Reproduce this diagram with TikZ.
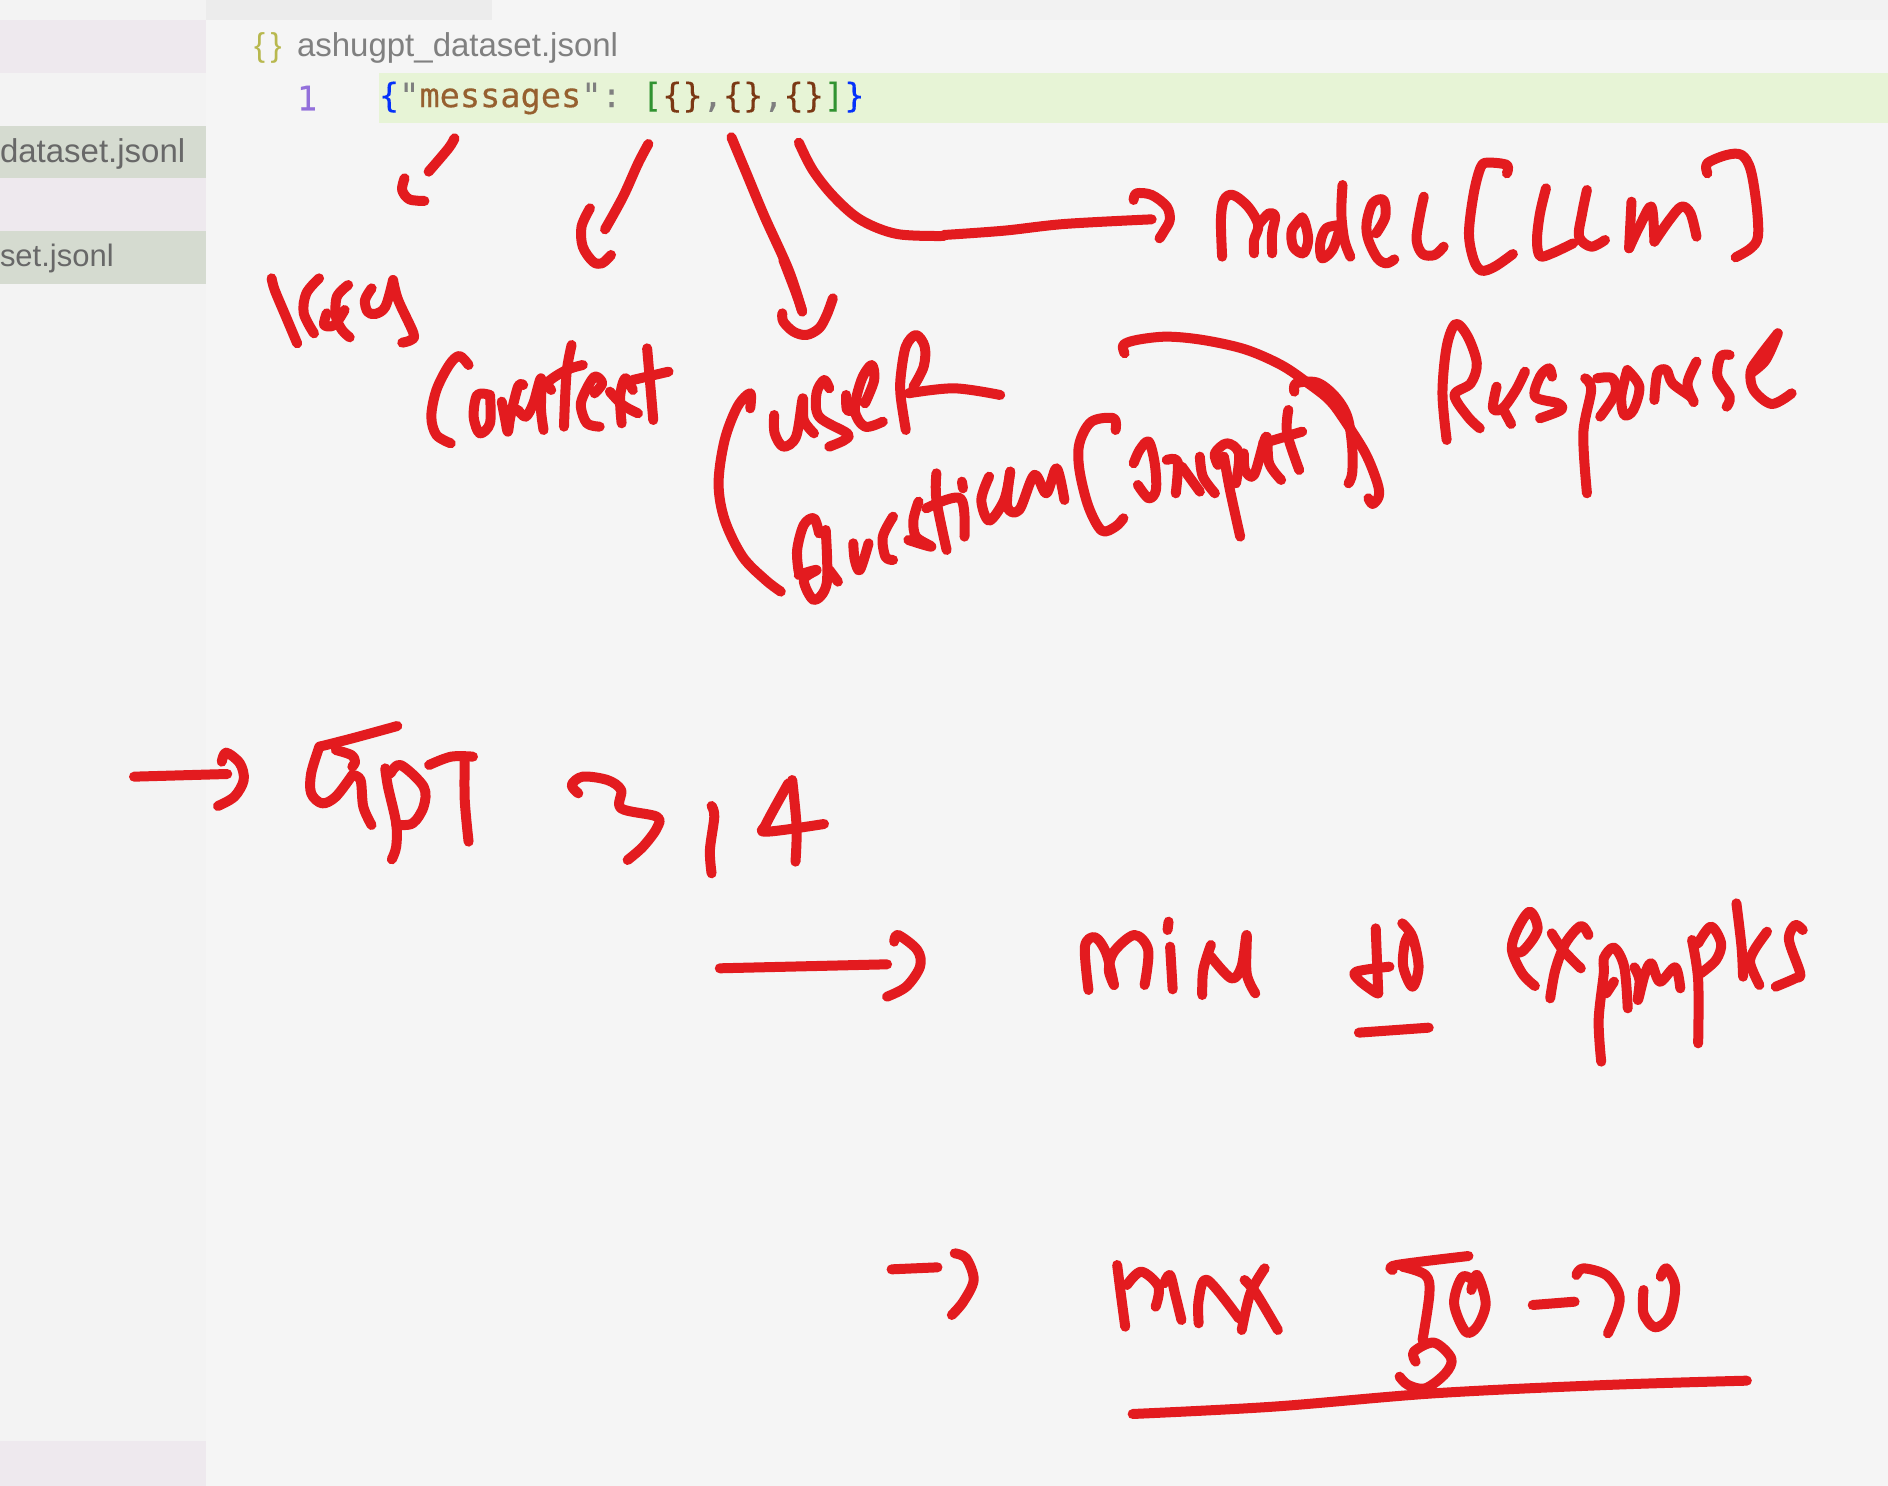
\documentclass[tikz,border=0pt]{standalone}
\usepackage{fontspec}
\setmainfont{Liberation Sans}
\newfontfamily\codefont[FakeBold=0.3]{DejaVu Sans Mono}
\definecolor{bgc}{HTML}{F5F5F5}
\definecolor{sidec}{HTML}{F3F3F3}
\definecolor{tabc}{HTML}{ECECEC}
\definecolor{bandc}{HTML}{F2F2F2}
\definecolor{rowc}{HTML}{EEE9EE}
\definecolor{selc}{HTML}{D5DBD0}
\definecolor{linec}{HTML}{E7F4D6}
\definecolor{penc}{HTML}{E31B1F}
\definecolor{titlec}{HTML}{808080}
\definecolor{filec}{HTML}{686868}
\definecolor{olivec}{HTML}{B8B84E}
\definecolor{numc}{HTML}{9370DB}
\definecolor{bluec}{HTML}{0431FA}
\definecolor{strc}{HTML}{96602F}
\definecolor{greenc}{HTML}{319331}
\definecolor{brownc}{HTML}{7B3814}
\definecolor{greyc}{HTML}{7F7F7F}
\tikzset{
 pen/.style={draw=penc,line width=10pt,line cap=round,line join=round},
 uitext/.style={inner sep=0pt,outer sep=0pt,anchor=west,font=\fontsize{33}{36}\selectfont},
 code/.style={inner sep=0pt,outer sep=0pt,anchor=west,font=\codefont\fontsize{33.6}{36}\selectfont},
}
\newcommand\pn[1]{\draw[pen] plot[smooth,tension=.55] coordinates {#1};}
\begin{document}
\begin{tikzpicture}[x=1pt,y=-1pt]
\useasboundingbox (0,0) rectangle (1888,1486);
\fill[bgc] (0,0) rectangle (1888,1486);
\fill[sidec] (0,0) rectangle (206,1486);
\fill[tabc] (206,0) rectangle (492,20);
\fill[bandc] (960,0) rectangle (1888,20);
\fill[rowc] (0,20) rectangle (206,73);
\fill[selc] (0,126) rectangle (206,178);
\fill[rowc] (0,178) rectangle (206,231);
\fill[selc] (0,231) rectangle (206,284);
\fill[rowc] (0,1441) rectangle (206,1486);
\fill[linec] (379,73) rectangle (1888,123);
\node[uitext,text=olivec] (icon) at (254,48) {\{\,\}};
\node[uitext,text=titlec] (title) at (297,48) {ashugpt\_dataset.jsonl};
\node[uitext,text=filec] (f1) at (0,154) {dataset.jsonl};
\node[uitext,text=filec,font=\fontsize{31}{34}\selectfont] (f2) at (0,258) {set.jsonl};
\node[code,text=numc] (num) at (297,98) {1};
\node[code] (codeline) at (379,98) {\textcolor{bluec}{\{}\textcolor{greyc}{"}\textcolor{strc}{messages}\textcolor{greyc}{":}~\textcolor{greenc}{[}\textcolor{brownc}{\{\}}\textcolor{greyc}{,}\textcolor{brownc}{\{\}}\textcolor{greyc}{,}\textcolor{brownc}{\{\}}\textcolor{greenc}{]}\textcolor{bluec}{\}}};
% zoom 1 strokes
\begin{scope}[shift={(0,0)},xscale=0.602,yscale=0.3333]
\pn{(755,415)(745,445)(712,515)}
\pn{(672,535)(668,570)(680,598)(705,603)}
\pn{(1077,432)(1060,490)(1035,590)(1005,688)}
\pn{(980,625)(966,680)(968,740)(985,785)(1000,790)(1015,765)}
\pn{(1215,412)(1240,520)(1270,650)(1310,810)(1332,930)}
\pn{(1327,428)(1350,510)(1385,590)(1430,660)(1490,702)(1568,708)}
\end{scope}
% zoom 2 strokes
\begin{scope}[shift={(944,100)},xscale=0.602,yscale=0.3333]
\pn{(0,405)(100,392)(200,372)(345,358)}
\pn{(315,300)(320,280)(345,285)(370,320)(375,360)(365,395)(358,415)}
\pn{(462,470)(460,360)(465,300)(480,285)(505,320)(522,375)(515,420)(515,460)}
\pn{(522,375)(540,340)(550,350)(545,400)(545,460)}
\pn{(595,352)(578,390)(580,440)(597,460)(605,420)(600,370)(595,352)}
\pn{(660,375)(635,385)(625,430)(628,475)(645,450)(655,400)}
\pn{(662,255)(660,340)(665,420)(675,470)}
\pn{(718,400)(733,350)(730,300)(712,310)(702,370)(705,420)(720,475)(735,490)(748,478)}
\pn{(797,290)(790,350)(785,420)(795,462)(815,465)(830,440)}
\pn{(935,220)(935,195)(905,188)(892,200)(880,280)(872,400)(880,480)(893,512)(915,500)(945,462)}
\pn{(1000,265)(990,340)(985,420)(990,468)(1010,460)(1045,430)}
\pn{(1068,270)(1060,340)(1055,410)(1075,440)(1098,420)}
\pn{(1142,305)(1138,445)}
\pn{(1138,445)(1155,380)(1175,320)(1180,425)}
\pn{(1180,425)(1205,360)(1225,320)(1240,340)(1250,410)}
\pn{(1268,220)(1268,190)(1300,165)(1325,165)(1340,210)(1350,320)(1352,410)(1340,445)(1315,472)}
\pn{(300,760)(298,735)(320,720)(370,710)(430,720)(500,748)(560,795)(605,850)(640,900)(665,960)(700,1060)(720,1150)(722,1190)(712,1212)(705,1195)}
\pn{(582,875)(585,850)(620,848)(650,890)(670,950)(678,1040)(678,1120)(672,1150)}
\pn{(835,1020)(828,880)(835,740)(850,672)(870,710)(885,790)(875,850)(848,885)(870,950)(890,985)}
\pn{(918,860)(912,925)(928,925)(950,870)(965,815)}
\pn{(928,925)(942,972)}
\pn{(1010,830)(1005,805)(990,830)(982,890)(1020,910)(1025,930)(990,955)}
\pn{(1065,835)(1075,870)(1062,1000)(1068,1180)}
\pn{(1085,835)(1110,835)(1115,880)(1090,950)}
\pn{(1135,810)(1155,860)(1145,930)(1130,945)(1125,890)(1135,810)}
\pn{(1180,900)(1185,820)(1200,810)(1210,850)(1240,890)(1245,905)(1235,850)(1250,785)}
\pn{(1305,765)(1290,770)(1285,830)(1305,890)(1300,920)}
\pn{(1385,700)(1355,770)(1340,815)(1345,870)(1375,912)(1408,880)}
\pn{(1340,820)(1365,780)(1385,700)}
\pn{(75,1130)(62,1200)(75,1262)(100,1200)(110,1115)}
\pn{(110,1115)(105,1220)(125,1230)(150,1125)(170,1180)(187,1105)(200,1200)}
\pn{(285,990)(282,955)(245,965)(225,1030)(225,1110)(240,1220)(262,1292)(285,1280)(298,1255)}
\pn{(315,1090)(325,1050)(340,1025)(350,1090)(352,1170)(340,1195)(322,1155)}
\pn{(370,1080)(388,1085)(385,1180)}
\pn{(395,1100)(425,1175)}
\pn{(425,1070)(430,1130)(450,1180)}
\pn{(455,1095)(450,1060)(470,1030)(490,1060)(485,1150)}
\pn{(465,1070)(475,1170)(492,1310)}
\pn{(498,1060)(500,1110)(515,1125)(535,1010)(540,1090)(560,1140)}
\pn{(572,930)(570,1000)(590,1110)}
\pn{(530,1030)(595,995)}
\end{scope}
% zoom 3 strokes
\begin{scope}[shift={(240,250)},xscale=0.5102,yscale=0.3333]
\pn{(1102,185)(1090,130)(1065,30)}
\pn{(1063,190)(1065,215)(1085,245)(1110,255)(1135,235)(1150,195)(1162,145)}
\pn{(62,85)(68,120)(90,200)(112,280)}
\pn{(155,85)(130,130)(125,190)(145,250)}
\pn{(212,105)(190,140)(188,200)(200,240)(215,262)}
\pn{(170,190)(165,225)(185,225)(205,180)}
\pn{(258,115)(245,150)(250,185)(265,192)(285,170)(300,90)}
\pn{(300,90)(310,150)(340,250)(335,270)(318,278)}
\pn{(448,345)(430,318)(410,345)(385,420)(375,500)(385,555)(413,580)}
\pn{(490,435)(465,435)(458,500)(470,550)(490,520)(490,435)}
\pn{(513,455)(520,510)(525,545)(530,500)(545,410)(555,405)}
\pn{(545,480)(560,500)(575,460)(590,385)(590,480)(595,540)}
\pn{(650,285)(640,370)(635,530)}
\pn{(610,420)(605,395)(640,360)(672,345)}
\pn{(695,430)(710,400)(695,380)(675,430)(668,470)(680,520)(705,530)}
\pn{(725,425)(750,465)(780,490)}
\pn{(770,420)(755,385)(745,440)(748,520)}
\pn{(798,295)(805,420)(810,510)}
\pn{(770,390)(840,365)}
\pn{(1000,475)(1000,430)(975,470)(950,570)(938,700)(950,810)(985,920)(1030,990)(1060,1025)}
\pn{(1047,495)(1048,550)(1065,590)(1090,560)(1103,445)(1105,510)(1125,550)}
\pn{(1155,415)(1145,390)(1130,430)(1135,500)(1190,550)(1185,570)(1155,590)}
\pn{(1225,460)(1243,390)(1238,345)(1218,390)(1205,480)(1225,530)(1260,515)}
\pn{(1188,435)(1190,480)(1205,480)}
\pn{(1305,540)(1295,440)(1295,380)(1305,290)(1325,255)(1342,290)(1340,350)(1320,410)}
\pn{(1310,430)(1400,415)(1490,435)}
\pn{(1135,850)(1125,805)(1105,825)(1092,900)(1095,965)}
\pn{(1095,975)(1130,960)(1105,990)(1125,1050)(1150,1000)(1148,840)}
\pn{(1155,960)(1172,995)}
\pn{(1202,880)(1205,930)(1215,960)(1232,880)}
\pn{(1280,800)(1260,860)(1265,920)(1280,930)}
\pn{(1330,755)(1320,810)(1325,860)(1355,890)(1310,870)}
\pn{(1365,670)(1365,750)(1385,900)}
\pn{(1345,775)(1412,745)(1420,860)}
\pn{(1415,695)(1417,715)}
\end{scope}
% zoom 4 strokes
\begin{scope}[shift={(100,700)},xscale=0.5485,yscale=0.3333]
\pn{(62,230)(232,222)}
\pn{(222,185)(230,158)(255,190)(262,240)(245,290)(215,318)}
\pn{(400,140)(460,115)(542,78)}
\pn{(400,140)(385,220)(385,280)(405,310)(430,290)(460,225)}
\pn{(430,150)(458,165)(465,185)(460,200)}
\pn{(460,225)(475,240)(480,320)(495,375)}
\pn{(520,205)(525,260)(540,370)(540,440)(532,478)}
\pn{(530,220)(548,195)(590,260)(590,320)(570,370)(540,375)}
\pn{(600,195)(640,170)(680,170)}
\pn{(665,175)(665,300)(672,425)}
\pn{(872,280)(860,255)(880,230)(925,240)(950,270)(950,325)(1015,350)(1015,385)(990,440)(962,480)}
\pn{(1115,318)(1120,350)(1112,450)(1115,520)}
\pn{(1255,250)(1215,370)(1215,395)(1320,372)}
\pn{(1262,240)(1270,380)(1268,485)}
\pn{(1130,805)(1435,793)}
\pn{(1448,725)(1455,705)(1490,750)(1495,800)(1470,860)(1435,890)}
\end{scope}
% zoom 5 strokes
\begin{scope}[shift={(1040,880)},xscale=0.5102,yscale=0.3333]
\pn{(95,330)(88,200)(108,172)(130,220)(145,315)}
\pn{(145,315)(135,270)(145,215)(185,165)(212,210)(205,315)}
\pn{(252,125)(250,150)}
\pn{(255,200)(260,328)}
\pn{(335,195)(320,270)(318,345)}
\pn{(335,230)(375,295)(395,260)(405,165)(405,280)(422,340)}
\pn{(658,145)(663,340)}
\pn{(685,260)(620,275)(625,300)(655,335)(663,340)}
\pn{(710,130)(730,170)(742,260)(730,320)(712,260)(715,190)(725,160)}
\pn{(625,458)(762,443)}
\pn{(925,210)(945,215)(975,150)(960,95)(935,150)(925,210)(945,280)(970,318)}
\pn{(1003,160)(1025,210)(1060,265)}
\pn{(1075,165)(1060,138)(1030,190)(1010,270)(1000,355)}
\pn{(1100,545)(1095,420)(1105,280)(1105,235)(1125,203)(1145,260)(1152,385)}
\pn{(1125,305)(1110,340)}
\pn{(1165,262)(1175,300)(1172,360)(1185,285)(1198,250)(1215,305)(1245,262)(1255,325)}
\pn{(1278,180)(1290,300)(1290,490)}
\pn{(1290,190)(1315,140)(1335,190)(1325,240)(1295,280)}
\pn{(1365,70)(1375,200)(1378,290)}
\pn{(1425,155)(1400,210)(1392,250)(1410,315)}
\pn{(1495,150)(1480,135)(1468,180)(1490,280)(1480,295)(1442,320)}
\end{scope}
% zoom 6 strokes
\begin{scope}[shift={(860,1230)},xscale=0.574,yscale=0.3333]
\pn{(55,118)(135,112)}
\pn{(165,70)(185,85)(198,150)(180,215)(160,255)}
\pn{(448,105)(455,200)(462,290)}
\pn{(465,165)(490,125)(520,170)(515,230)}
\pn{(530,160)(540,135)(550,200)(560,270)}
\pn{(590,280)(590,210)(605,150)(660,265)}
\pn{(705,115)(680,190)(665,300)}
\pn{(670,150)(690,190)(728,300)}
\pn{(928,120)(935,105)(1060,78)}
\pn{(945,110)(985,135)(992,190)(980,330)}
\pn{(968,395)(965,365)(1000,338)(1030,385)(1020,430)(985,475)(955,465)(940,440)}
\pn{(1075,160)(1050,140)(1035,220)(1055,305)(1075,290)(1090,220)(1075,135)(1065,180)}
\pn{(1172,225)(1245,215)}
\pn{(1248,135)(1260,115)(1300,135)(1322,190)(1320,240)(1303,310)}
\pn{(1395,140)(1405,115)(1420,170)(1410,260)(1385,292)(1365,250)(1365,180)}
\pn{(475,552)(720,530)(1000,490)(1300,465)(1545,452)}
\end{scope}
\end{tikzpicture}
\end{document}
